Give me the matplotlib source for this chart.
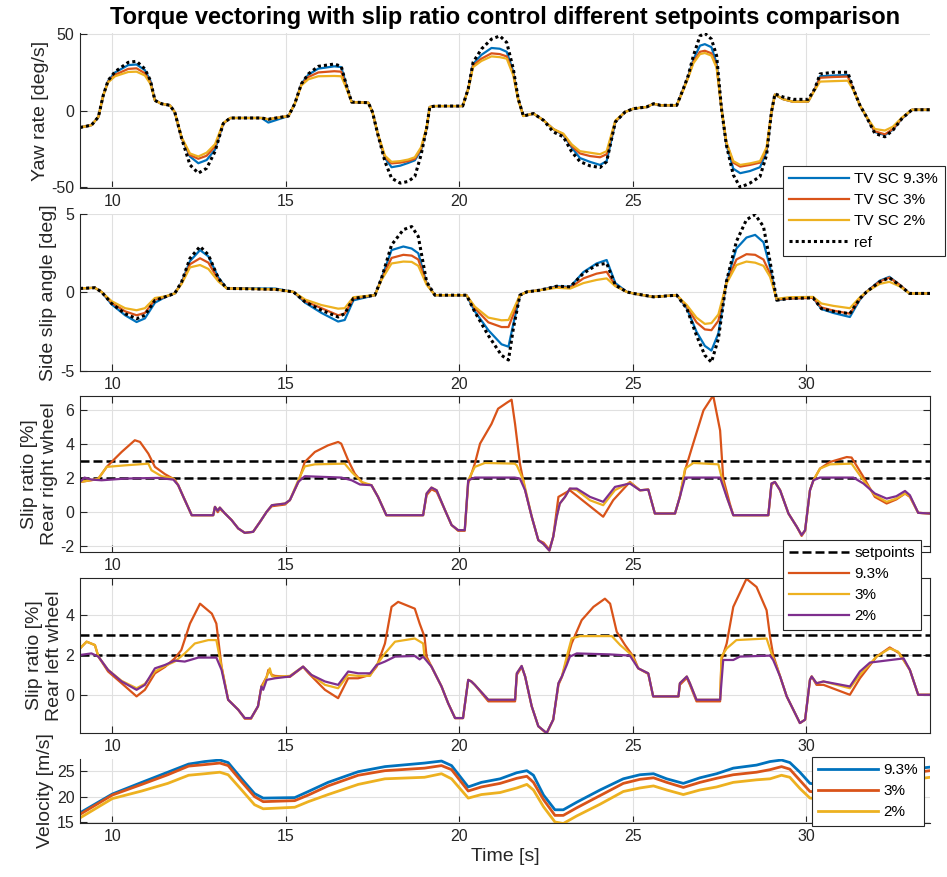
import matplotlib
matplotlib.use('Agg')
import matplotlib.pyplot as plt
from matplotlib.lines import Line2D

plt.rcParams['font.family'] = ['Liberation Sans', 'DejaVu Sans']
plt.rcParams['axes.unicode_minus'] = False
plt.rcParams['lines.solid_joinstyle'] = 'round'

# ---------------- data ----------------
# Yaw rate [deg/s]
t1 = [9.07, 9.4, 9.6, 9.74, 9.88, 10.08, 10.46, 10.7, 10.94, 11.1,
      11.23, 11.42, 11.66, 11.8, 12.0, 12.24, 12.48, 12.72, 12.96, 13.2,
      13.4, 13.73, 14.3, 14.5, 15.08, 15.26, 15.45, 15.65, 15.94, 16.4,
      16.6, 16.75, 16.9, 17.38, 17.5, 17.66, 17.86, 18.05, 18.3, 18.53,
      18.72, 18.9, 19.06, 19.15, 19.3, 20.1, 20.26, 20.4, 20.64, 20.93,
      21.17, 21.37, 21.56, 21.7, 21.85, 22.14, 22.43, 22.71, 23.0, 23.24,
      23.48, 23.77, 24.06, 24.25, 24.5, 24.78, 25.02, 25.4, 25.6, 25.8,
      26.27, 26.46, 26.6, 26.75, 26.94, 27.08, 27.27, 27.42, 27.56, 27.7,
      27.9, 28.1, 28.38, 28.67, 28.86, 29.0, 29.1, 29.34, 29.63, 30.06,
      30.25, 30.4, 30.78, 31.2, 31.36, 31.55, 31.74, 31.98, 32.27, 32.5,
      32.76, 33.05, 33.57]
yaw_ref = [-11.0, -9.5, -4.1, 10.0, 19.7, 25.5, 31.6, 32.3, 27.3, 19.7,
           6.7, 4.5, 3.5, -0.9, -18.2, -35.5, -40.9, -37.7, -26.8, -8.4,
           -4.8, -4.8, -4.8, -5.6, -3.5, 4.5, 17.5, 24.0, 29.0, 30.5,
           29.0, 16.5, 5.6, 5.2, -0.9, -16.0, -33.3, -44.2, -47.4, -46.3,
           -43.1, -29.0, -11.7, 2.4, 3.0, 3.0, 14.3, 31.6, 40.3, 46.8,
           48.9, 44.6, 27.3, 7.8, -3.5, -1.9, -6.3, -13.9, -17.1, -26.8,
           -33.3, -36.1, -37.2, -33.3, -7.4, -0.9, 1.3, 2.4, 4.5, 3.5,
           3.5, 14.3, 22.9, 35.9, 48.9, 50.6, 46.8, 35.9, 1.3, -22.5,
           -42.0, -50.2, -47.4, -43.1, -29.0, -0.9, 11.0, 8.9, 7.4, 7.4,
           14.3, 24.0, 25.1, 25.1, 14.3, 3.5, -4.1, -14.9, -17.1, -12.8,
           -5.2, 0.6, 0.6]
yaw_93 = [-11.0, -9.5, -4.1, 10.0, 19.5, 25.0, 29.8, 30.2, 26.5, 19.5,
          6.7, 4.5, 3.5, -0.9, -18.0, -30.0, -34.4, -32.3, -25.5, -8.4,
          -4.8, -4.8, -4.8, -7.8, -3.5, 4.5, 17.5, 23.5, 27.5, 29.0,
          28.5, 16.5, 5.6, 5.2, -0.9, -16.0, -31.0, -37.0, -36.0, -34.2,
          -32.5, -26.0, -11.7, 2.4, 3.0, 3.0, 14.3, 30.5, 36.5, 41.0,
          40.5, 38.5, 25.5, 7.8, -3.5, -1.9, -6.3, -12.0, -16.0, -24.0,
          -31.0, -33.5, -35.5, -33.0, -7.4, -0.9, 1.3, 2.4, 4.5, 3.5,
          3.5, 14.3, 22.5, 33.5, 42.5, 43.5, 41.5, 31.0, 1.3, -22.0,
          -38.0, -40.9, -39.5, -37.0, -27.0, -0.9, 10.5, 7.5, 5.8, 6.0,
          14.0, 22.5, 23.0, 23.3, 14.0, 3.5, -4.1, -14.0, -16.0, -12.5,
          -5.2, 0.6, 0.6]
yaw_3 = [-11.0, -9.5, -4.1, 10.0, 19.0, 23.5, 27.3, 27.7, 24.5, 18.5,
         6.7, 4.5, 3.5, -0.9, -18.0, -29.0, -31.5, -29.5, -23.5, -8.4,
         -4.8, -4.8, -4.8, -5.6, -3.5, 4.5, 17.0, 22.0, 25.0, 25.8,
         25.5, 15.5, 5.6, 5.2, -0.9, -16.0, -30.5, -34.5, -34.0, -33.0,
         -31.5, -25.0, -11.5, 2.4, 3.0, 3.0, 14.3, 29.5, 34.0, 37.5,
         37.0, 35.5, 24.0, 7.5, -3.5, -1.9, -6.3, -12.0, -15.5, -23.0,
         -28.0, -29.7, -30.5, -28.5, -7.0, -0.9, 1.3, 2.4, 4.5, 3.5,
         3.5, 14.0, 22.0, 32.0, 38.5, 39.2, 37.5, 29.0, 1.3, -21.0,
         -34.0, -36.6, -35.5, -34.0, -25.0, -0.9, 10.5, 7.5, 5.8, 6.0,
         14.0, 21.5, 22.0, 22.3, 14.0, 3.5, -4.1, -13.5, -15.5, -12.0,
         -5.0, 0.6, 0.6]
yaw_2 = [-11.0, -9.5, -4.1, 10.0, 18.5, 22.5, 25.3, 25.5, 23.0, 17.5,
         6.7, 4.5, 3.5, -0.9, -17.5, -28.0, -30.0, -27.5, -22.0, -8.0,
         -4.8, -4.8, -4.8, -5.6, -3.5, 4.5, 16.5, 20.5, 22.5, 22.7,
         22.5, 14.5, 5.6, 5.2, -0.9, -15.5, -29.5, -33.5, -33.0, -32.0,
         -30.5, -24.0, -11.0, 2.4, 3.0, 3.0, 14.0, 28.5, 32.5, 35.5,
         35.0, 34.0, 23.0, 7.0, -3.5, -1.9, -6.3, -12.0, -15.0, -22.0,
         -26.5, -27.5, -28.5, -26.5, -6.5, -0.9, 1.3, 2.4, 4.5, 3.5,
         3.5, 13.5, 21.5, 31.0, 37.0, 37.7, 36.0, 28.0, 1.3, -20.5,
         -33.0, -35.5, -34.5, -33.0, -24.0, -0.9, 10.5, 7.5, 5.8, 6.0,
         13.5, 19.0, 19.3, 19.6, 13.5, 3.5, -4.0, -12.0, -13.0, -10.5,
         -4.5, 0.6, 0.6]

# Side slip angle [deg]
t2 = [9.07, 9.5, 9.69, 9.98, 10.37, 10.7, 10.94, 11.23, 11.52, 11.8,
      12.0, 12.24, 12.53, 12.77, 13.06, 13.3, 14.7, 15.22, 15.56, 16.03,
      16.51, 16.7, 16.95, 17.57, 17.76, 18.05, 18.39, 18.63, 18.82, 19.06,
      19.3, 20.21, 20.45, 20.84, 21.22, 21.42, 21.56, 21.75, 21.95, 22.33,
      22.81, 23.2, 23.58, 23.96, 24.25, 24.5, 24.83, 25.02, 25.6, 26.27,
      26.56, 26.84, 27.08, 27.27, 27.47, 27.7, 27.99, 28.28, 28.53, 28.77,
      28.96, 29.15, 29.53, 30.2, 30.44, 30.78, 31.26, 31.55, 31.74, 32.12,
      32.4, 32.69, 32.98, 33.57]
beta_ref = [0.26, 0.3, 0.04, -0.7, -1.35, -1.67, -1.45, -0.5, -0.28, -0.06,
            0.68, 2.18, 2.93, 2.4, 0.9, 0.26, 0.2, 0.04, -0.6, -1.13,
            -1.56, -1.35, -0.38, -0.17, 0.9, 3.03, 4.0, 4.2, 3.57, 0.68,
            -0.17, -0.17, -1.24, -2.74, -4.0, -4.3, -2.3, -0.17, 0.04, 0.15,
            0.4, 0.36, 1.22, 1.75, 1.86, 0.47, 0.04, -0.06, -0.28, -0.17,
            -1.03, -2.74, -4.0, -4.44, -2.95, 0.68, 3.25, 4.64, 4.96, 4.2,
            1.97, -0.49, -0.38, -0.34, -1.03, -1.2, -1.35, -0.38, 0.04, 0.68,
            0.94, 0.47, -0.06, -0.06]
beta_93 = [0.26, 0.3, 0.04, -0.75, -1.45, -1.88, -1.65, -0.65, -0.3, -0.06,
           0.65, 2.0, 2.7, 2.3, 0.95, 0.26, 0.25, 0.04, -0.65, -1.3,
           -1.85, -1.75, -0.5, -0.17, 0.9, 2.7, 2.93, 2.8, 2.5, 0.6,
           -0.17, -0.17, -1.2, -2.4, -3.3, -3.45, -2.0, -0.17, 0.04, 0.15,
           0.4, 0.36, 1.3, 1.85, 2.07, 0.6, 0.04, -0.06, -0.28, -0.17,
           -1.0, -2.5, -3.4, -3.7, -2.6, 0.68, 2.8, 3.5, 3.67, 3.2,
           1.6, -0.49, -0.38, -0.34, -1.05, -1.3, -1.56, -0.45, 0.04, 0.75,
           1.0, 0.5, -0.06, -0.06]
beta_3 = [0.26, 0.3, 0.04, -0.65, -1.2, -1.45, -1.3, -0.45, -0.28, -0.06,
          0.6, 1.8, 2.18, 1.9, 0.8, 0.26, 0.2, 0.04, -0.55, -1.0,
          -1.45, -1.35, -0.38, -0.17, 0.85, 2.2, 2.4, 2.35, 2.1, 0.55,
          -0.17, -0.17, -1.0, -1.9, -2.2, -2.2, -1.4, -0.17, 0.04, 0.15,
          0.35, 0.3, 0.9, 1.2, 1.32, 0.45, 0.04, -0.06, -0.28, -0.17,
          -0.9, -1.9, -2.35, -2.4, -1.8, 0.6, 2.1, 2.44, 2.4, 2.1,
          1.2, -0.45, -0.38, -0.34, -0.95, -1.15, -1.35, -0.4, 0.04, 0.7,
          0.95, 0.5, -0.06, -0.06]
beta_2 = [0.26, 0.3, 0.04, -0.55, -1.0, -1.13, -1.0, -0.35, -0.25, -0.06,
          0.55, 1.6, 1.75, 1.5, 0.7, 0.26, 0.2, 0.04, -0.45, -0.8,
          -1.03, -1.0, -0.3, -0.17, 0.8, 1.85, 1.97, 1.95, 1.7, 0.5,
          -0.17, -0.17, -0.9, -1.6, -1.77, -1.75, -1.1, -0.17, 0.04, 0.15,
          0.3, 0.25, 0.6, 0.8, 0.9, 0.4, 0.04, -0.06, -0.28, -0.17,
          -0.8, -1.6, -2.0, -1.95, -1.4, 0.55, 1.75, 1.97, 1.9, 1.7,
          1.0, -0.4, -0.3, -0.28, -0.7, -0.85, -1.0, -0.3, 0.04, 0.55,
          0.68, 0.4, -0.06, -0.06]

# Slip ratio rear right wheel [%]
setpoints = [2, 3]
t3_93 = [9.07, 9.5, 9.6, 9.84, 9.98, 10.27, 10.65, 10.8, 11.04, 11.23,
         11.52, 11.8, 11.9, 12.05, 12.29, 12.91, 12.96, 13.04, 13.1, 13.25,
         13.44, 13.63, 13.82, 14.06, 14.26, 14.45, 14.6, 14.98, 15.12, 15.36,
         15.55, 15.84, 16.22, 16.51, 16.6, 16.8, 16.99, 17.23, 17.47, 17.66,
         17.9, 18.96, 19.06, 19.2, 19.35, 19.59, 19.78, 19.97, 20.16, 20.26,
         20.45, 20.6, 20.93, 21.12, 21.4, 21.51, 21.61, 21.75, 21.9, 22.09,
         22.28, 22.43, 22.6, 22.71, 22.86, 23.19, 23.67, 24.15, 24.44, 24.92,
         25.21, 25.45, 25.64, 26.22, 26.36, 26.51, 26.7, 27.04, 27.32, 27.52,
         27.61, 27.8, 27.9, 28.91, 29.0, 29.1, 29.25, 29.49, 29.73, 29.87,
         29.97, 30.11, 30.21, 30.4, 30.69, 31.17, 31.31, 31.65, 31.98, 32.32,
         32.6, 32.85, 32.99, 33.23, 33.57]
sr_rr_93 = [1.78, 1.92, 1.98, 2.67, 2.96, 3.55, 4.24, 4.14, 3.45, 2.67,
            2.24, 1.92, 1.59, 0.9, -0.18, -0.18, 0.31, 0.0, 0.2, -0.08,
            -0.47, -0.96, -1.22, -1.16, -0.57, 0.02, 0.35, 0.45, 0.71, 1.75,
            2.96, 3.55, 3.94, 4.14, 4.04, 3.06, 2.27, 1.69, 1.59, 0.9,
            -0.18, -0.18, 1.0, 1.35, 1.2, 0.12, -0.76, -1.1, -1.1, 1.7,
            2.86, 4.04, 5.2, 6.1, 6.49, 6.63, 5.2, 2.86, 1.29, -0.27,
            -1.65, -1.8, -2.2, -1.45, 0.9, 1.29, 0.51, -0.27, 0.71, 1.78,
            1.29, 1.33, -0.08, -0.08, 0.9, 2.47, 3.75, 6.0, 6.88, 4.82,
            1.98, 0.5, -0.18, -0.18, 1.6, 1.78, 1.29, -0.08, -0.86, -1.4,
            -1.1, 1.29, 1.88, 2.57, 2.96, 3.25, 3.22, 2.08, 0.9, 0.51,
            0.75, 1.1, 0.9, -0.04, -0.08]
t3_3 = [9.07, 9.5, 9.6, 9.84, 10.37, 11.04, 11.13, 11.42, 11.76, 11.9,
        12.05, 12.29, 12.91, 12.96, 13.04, 13.1, 13.25, 13.44, 13.63, 13.82,
        14.06, 14.26, 14.45, 14.6, 14.98, 15.12, 15.36, 15.55, 15.84, 16.7,
        16.9, 17.19, 17.47, 17.66, 17.9, 18.96, 19.06, 19.2, 19.35, 19.59,
        19.78, 19.97, 20.16, 20.26, 20.45, 20.74, 21.6, 21.66, 21.85, 22.09,
        22.28, 22.43, 22.6, 22.71, 22.81, 22.9, 23.05, 23.19, 23.39, 23.77,
        24.15, 24.49, 24.92, 25.21, 25.45, 25.64, 26.22, 26.36, 26.51, 26.75,
        27.47, 27.56, 27.71, 27.9, 28.91, 29.0, 29.1, 29.25, 29.49, 29.73,
        29.87, 29.97, 30.11, 30.21, 30.4, 30.69, 31.31, 31.65, 31.98, 32.32,
        32.6, 32.85, 32.99, 33.23, 33.57]
sr_rr_3 = [1.78, 1.92, 1.98, 2.67, 2.76, 2.86, 2.47, 2.12, 1.98, 1.59,
           0.9, -0.18, -0.18, 0.31, 0.08, 0.27, -0.08, -0.47, -0.96, -1.22,
           -1.16, -0.57, 0.02, 0.41, 0.51, 0.71, 1.88, 2.7, 2.82, 2.86,
           2.37, 1.78, 1.59, 0.9, -0.18, -0.18, 1.1, 1.45, 1.29, 0.12,
           -0.76, -1.06, -1.06, 1.88, 2.67, 2.9, 2.86, 2.76, 1.88, -0.27,
           -1.65, -1.88, -2.27, -1.45, -0.27, 0.51, 0.9, 1.39, 1.3, 0.7,
           0.41, 1.3, 1.75, 1.29, 1.33, -0.08, -0.08, 0.9, 2.57, 2.9,
           2.82, 2.08, 0.9, -0.18, -0.18, 1.69, 1.78, 1.29, -0.08, -0.86,
           -1.35, -1.06, 1.29, 1.88, 2.57, 2.82, 2.86, 1.88, 1.0, 0.61,
           0.8, 1.1, 0.95, -0.04, -0.08]
t3_2 = [9.07, 9.2, 9.4, 9.69, 10.37, 11.33, 11.76, 11.9, 12.05, 12.29,
        12.91, 12.96, 13.04, 13.1, 13.25, 13.44, 13.63, 13.82, 14.06, 14.26,
        14.45, 14.6, 14.98, 15.12, 15.36, 15.55, 16.6, 16.9, 17.14, 17.47,
        17.66, 17.9, 18.96, 19.06, 19.2, 19.35, 19.59, 19.78, 19.97, 20.16,
        20.26, 20.45, 21.6, 21.75, 21.9, 22.09, 22.28, 22.43, 22.6, 22.71,
        22.81, 22.9, 23.05, 23.19, 23.39, 23.77, 24.15, 24.49, 24.92, 25.21,
        25.45, 25.64, 26.22, 26.36, 26.51, 27.52, 27.71, 27.9, 28.91, 29.0,
        29.1, 29.25, 29.49, 29.73, 29.87, 29.97, 30.11, 30.21, 30.4, 31.36,
        31.65, 31.98, 32.32, 32.6, 32.85, 32.99, 33.23, 33.57]
sr_rr_2 = [1.78, 2.04, 1.92, 1.88, 1.98, 2.02, 1.92, 1.59, 0.9, -0.18,
           -0.18, 0.31, 0.08, 0.27, -0.08, -0.47, -0.96, -1.22, -1.16, -0.57,
           0.02, 0.41, 0.51, 0.71, 1.78, 2.12, 2.04, 1.88, 1.63, 1.59,
           0.9, -0.18, -0.18, 1.1, 1.45, 1.29, 0.12, -0.76, -1.06, -1.06,
           1.88, 2.04, 2.04, 1.98, 1.29, -0.27, -1.65, -1.88, -2.27, -1.45,
           -0.27, 0.51, 0.9, 1.39, 1.39, 0.9, 0.61, 1.49, 1.69, 1.29,
           1.33, -0.08, -0.08, 0.9, 2.04, 2.04, 0.9, -0.18, -0.18, 1.69,
           1.78, 1.29, -0.08, -0.86, -1.35, -1.06, 1.29, 1.88, 2.04, 2.04,
           1.69, 1.1, 0.8, 0.94, 1.25, 1.0, -0.04, -0.08]

# Slip ratio rear left wheel [%]
t4_93 = [9.07, 9.26, 9.5, 9.6, 9.88, 10.27, 10.7, 10.94, 11.23, 11.52,
         11.8, 11.99, 12.24, 12.53, 12.87, 13.0, 13.15, 13.34, 13.63, 13.82,
         14.0, 14.2, 14.3, 14.45, 14.5, 14.6, 14.69, 15.12, 15.5, 15.65,
         16.13, 16.51, 16.8, 17.09, 17.43, 17.62, 17.86, 18.05, 18.24, 18.72,
         18.86, 19.0, 19.06, 19.2, 19.49, 19.68, 19.88, 20.11, 20.26, 20.35,
         20.45, 20.84, 21.61, 21.66, 21.8, 21.9, 22.09, 22.28, 22.52, 22.71,
         22.86, 22.96, 23.1, 23.24, 23.53, 23.87, 24.2, 24.35, 24.54, 24.78,
         25.02, 25.16, 25.45, 25.59, 26.32, 26.36, 26.56, 26.65, 26.84, 27.52,
         27.56, 27.71, 27.9, 28.28, 28.57, 28.86, 28.96, 29.05, 29.25, 29.44,
         29.63, 29.82, 29.97, 30.11, 30.16, 30.3, 30.5, 31.26, 31.55, 32.03,
         32.41, 32.69, 32.99, 33.23, 33.57]
sr_rl_93 = [2.33, 2.67, 2.5, 1.92, 1.17, 0.58, -0.08, 0.25, 1.08, 1.4,
            1.83, 2.25, 3.58, 4.58, 4.08, 3.58, 1.42, -0.25, -0.75, -1.2,
            -1.2, -0.58, 0.42, 0.9, 1.25, 1.0, 0.95, 0.9, 1.4, 1.1,
            0.25, -0.17, 0.83, 0.83, 1.0, 1.42, 2.58, 4.42, 4.67, 4.33,
            3.58, 2.92, 1.92, 1.42, 0.42, -0.42, -1.17, -1.17, 0.75, 0.67,
            0.5, -0.33, -0.33, 1.0, 1.4, 0.92, -0.58, -1.58, -1.95, -1.25,
            0.5, 0.9, 1.75, 2.58, 3.75, 4.42, 4.83, 4.58, 3.17, 2.5,
            1.92, 1.33, 1.05, -0.08, -0.08, 0.5, 0.85, 0.5, -0.33, -0.33,
            1.75, 2.58, 4.42, 5.83, 5.42, 4.25, 2.92, 2.0, 0.92, -0.08,
            -0.75, -1.42, -1.25, 0.75, 0.92, 0.5, 0.5, 0.0, 0.83, 1.92,
            2.38, 2.08, 1.25, 0.0, 0.0]
t4_3 = [9.07, 9.26, 9.5, 9.6, 9.88, 10.27, 10.7, 10.94, 11.23, 11.52,
        11.8, 12.09, 12.38, 12.77, 13.0, 13.15, 13.34, 13.63, 13.82, 14.0,
        14.2, 14.3, 14.35, 14.45, 14.54, 14.6, 14.69, 15.12, 15.5, 15.74,
        16.13, 16.51, 16.8, 17.09, 17.43, 17.62, 17.86, 18.15, 18.72, 18.96,
        19.0, 19.2, 19.49, 19.68, 19.88, 20.11, 20.26, 20.35, 20.45, 20.84,
        21.61, 21.66, 21.8, 21.9, 22.09, 22.28, 22.52, 22.71, 22.86, 22.96,
        23.1, 23.24, 23.48, 24.4, 24.64, 24.97, 25.16, 25.45, 25.59, 26.32,
        26.36, 26.56, 26.65, 26.84, 27.52, 27.56, 27.71, 27.99, 28.86, 29.0,
        29.15, 29.25, 29.44, 29.63, 29.82, 29.97, 30.11, 30.16, 30.3, 30.5,
        31.26, 31.55, 32.03, 32.41, 32.65, 32.99, 33.23, 33.57]
sr_rl_3 = [2.33, 2.67, 2.5, 1.92, 1.25, 0.7, 0.33, 0.55, 1.17, 1.45,
           1.67, 2.08, 2.58, 2.75, 2.75, 1.4, -0.25, -0.75, -1.17, -1.17,
           -0.58, 0.42, 0.5, 0.9, 1.33, 0.95, 0.9, 0.95, 1.42, 1.0,
           0.5, 0.33, 1.0, 0.95, 0.95, 1.5, 2.08, 2.67, 2.83, 2.58,
           1.92, 1.42, 0.42, -0.42, -1.17, -1.17, 0.75, 0.67, 0.5, -0.25,
           -0.25, 1.08, 1.45, 0.92, -0.58, -1.58, -1.92, -1.25, 0.58, 0.92,
           1.92, 2.83, 2.95, 2.95, 2.5, 2.0, 1.33, 1.08, -0.08, -0.08,
           0.58, 0.92, 0.58, -0.25, -0.25, 1.92, 2.33, 2.75, 2.83, 2.08,
           1.42, 0.92, -0.08, -0.75, -1.42, -1.25, 0.75, 0.92, 0.58, 0.67,
           0.33, 1.0, 1.92, 2.33, 2.17, 1.25, 0.0, 0.0]
t4_2 = [9.07, 9.4, 9.6, 9.88, 10.27, 10.7, 10.94, 11.23, 11.52, 11.8,
        12.09, 12.48, 13.0, 13.15, 13.34, 13.63, 13.82, 14.0, 14.2, 14.3,
        14.35, 14.45, 14.69, 15.12, 15.5, 15.74, 16.13, 16.51, 16.8, 17.09,
        17.43, 17.62, 17.86, 18.15, 18.72, 18.86, 18.96, 19.2, 19.49, 19.68,
        19.88, 20.11, 20.26, 20.35, 20.45, 20.84, 21.61, 21.66, 21.8, 21.9,
        22.09, 22.28, 22.52, 22.71, 22.86, 22.96, 23.1, 23.19, 23.39, 24.35,
        24.92, 25.16, 25.45, 25.59, 26.32, 26.36, 26.56, 26.65, 26.84, 27.52,
        27.61, 27.9, 28.09, 28.96, 29.05, 29.25, 29.44, 29.63, 29.82, 29.97,
        30.11, 30.16, 30.3, 30.5, 31.26, 31.55, 31.84, 32.81, 32.99, 33.23,
        33.57]
sr_rl_2 = [2.0, 2.08, 1.92, 1.25, 0.67, 0.25, 0.5, 1.33, 1.5, 1.72,
           1.67, 1.87, 1.87, 1.25, -0.25, -0.75, -1.17, -1.17, -0.58, 0.42,
           0.25, 0.75, 0.83, 0.92, 1.42, 1.0, 0.67, 0.5, 1.17, 1.08,
           1.08, 1.5, 1.67, 1.92, 1.95, 1.78, 1.92, 1.42, 0.42, -0.42,
           -1.17, -1.17, 0.75, 0.67, 0.5, -0.25, -0.25, 1.08, 1.45, 0.92,
           -0.58, -1.58, -1.92, -1.25, 0.58, 0.92, 1.5, 1.92, 2.08, 2.03,
           1.97, 1.33, 1.08, -0.08, -0.08, 0.58, 0.92, 0.58, -0.25, -0.25,
           1.75, 1.75, 1.92, 1.97, 1.75, 0.92, -0.08, -0.75, -1.42, -1.25,
           0.75, 0.92, 0.58, 0.67, 0.42, 1.17, 1.62, 1.83, 1.25, 0.0,
           0.0]

# Velocity [m/s]
t5 = [9.07, 10.0, 10.85, 11.6, 12.2, 12.67, 13.1, 13.34, 13.73, 14.1,
      14.35, 15.26, 15.65, 16.22, 17.09, 17.86, 19.0, 19.49, 19.78, 20.26,
      20.64, 21.18, 21.66, 21.95, 22.14, 22.43, 22.76, 23.0, 23.39, 24.06,
      24.73, 25.21, 25.6, 25.98, 26.46, 26.94, 27.42, 27.9, 28.57, 28.96,
      29.29, 29.53, 29.82, 30.11, 30.6, 31.5, 32.5, 33.57]
vel_93 = [16.8, 20.5, 22.8, 24.8, 26.4, 26.9, 27.2, 26.7, 23.5, 20.6,
          19.7, 19.8, 21.0, 22.8, 24.9, 25.9, 26.6, 27.0, 26.1, 21.9,
          22.8, 23.5, 24.7, 25.1, 24.2, 20.3, 17.4, 17.4, 18.9, 21.3,
          23.5, 24.3, 24.5, 23.5, 22.6, 23.7, 24.5, 25.6, 26.2, 26.9,
          27.2, 26.7, 24.8, 22.6, 22.2, 23.5, 25.0, 25.8]
vel_3 = [16.5, 20.3, 22.4, 24.3, 26.0, 26.3, 26.6, 26.1, 22.9, 20.0,
         19.0, 19.2, 20.3, 22.1, 24.2, 25.1, 25.6, 26.1, 25.3, 21.1,
         21.9, 22.6, 23.6, 24.0, 22.8, 19.4, 16.3, 16.3, 17.8, 20.2,
         22.6, 23.4, 23.7, 22.8, 21.8, 22.8, 23.6, 24.3, 24.8, 25.3,
         25.9, 25.4, 23.2, 21.0, 20.8, 22.3, 24.2, 25.1]
vel_2 = [15.8, 19.6, 21.1, 22.6, 24.2, 24.5, 24.8, 24.3, 21.3, 18.4,
         17.6, 17.9, 19.0, 20.4, 22.4, 23.5, 23.8, 24.5, 23.5, 19.7,
         20.4, 20.8, 21.7, 22.4, 21.3, 18.0, 15.0, 14.7, 16.2, 18.5,
         21.0, 21.7, 22.1, 21.3, 20.4, 21.3, 21.9, 22.8, 23.3, 23.5,
         24.2, 23.8, 21.6, 19.7, 19.5, 21.0, 22.8, 23.8]

xticks = [10, 15, 20, 25, 30]
title = 'Torque vectoring with slip ratio control different setpoints comparison'

# ---------------- style ----------------
W, H = 947, 877
BLUE = '#0072BD'; ORANGE = '#D95319'; YELLOW = '#EDB120'; PURPLE = '#7E2F8E'
AXC = '#262626'; GRIDC = '#E0E0E0'
TICK_FS = 11.5; LAB_FS = 14; LEG_FS = 11

fig = plt.figure(figsize=(W / 100, H / 100), dpi=100)


def ax_at(top, bottom, left=80, right=930):
    return fig.add_axes([left / W, 1 - bottom / H, (right - left) / W, (bottom - top) / H])


def style(ax, box, ylim, yticks):
    ax.set_xlim(9.07, 33.57)
    ax.set_ylim(*ylim)
    ax.set_xticks(xticks)
    ax.set_yticks(yticks)
    ax.grid(True, color=GRIDC, lw=0.8)
    ax.set_axisbelow(True)
    for s in ['left', 'bottom', 'top', 'right']:
        ax.spines[s].set_color(AXC)
        ax.spines[s].set_linewidth(0.8)
    if not box:
        ax.spines['top'].set_visible(False)
        ax.spines['right'].set_visible(False)
    ax.tick_params(direction='in', length=5, width=0.8, color=AXC, labelcolor=AXC,
                   labelsize=TICK_FS, top=box, right=box, pad=4)


LW = 1.6
dot = (0, (1, 1))

ax1 = ax_at(33, 188)
ax1.plot(t1, yaw_93, color=BLUE, lw=LW)
ax1.plot(t1, yaw_3, color=ORANGE, lw=LW)
ax1.plot(t1, yaw_2, color=YELLOW, lw=LW)
ax1.plot(t1, yaw_ref, color='black', lw=2.2, linestyle=dot)
style(ax1, False, (-50.6, 50.8), [-50, 0, 50])
ax1.set_ylabel('Yaw rate [deg/s]', fontsize=LAB_FS, color=AXC, labelpad=2)
ax1.set_title(title, fontsize=17, fontweight='bold', pad=6.5, color='black')

ax2 = ax_at(214, 371)
ax2.plot(t2, beta_93, color=BLUE, lw=LW)
ax2.plot(t2, beta_3, color=ORANGE, lw=LW)
ax2.plot(t2, beta_2, color=YELLOW, lw=LW)
ax2.plot(t2, beta_ref, color='black', lw=2.2, linestyle=dot)
style(ax2, False, (-5, 5), [-5, 0, 5])
ax2.set_ylabel('Side slip angle [deg]', fontsize=LAB_FS, color=AXC, labelpad=2)

dash = (0, (3.6, 1.6))
ax3 = ax_at(396, 552)
for sp in setpoints:
    ax3.axhline(sp, color='black', lw=1.8, linestyle=dash)
ax3.plot(t3_93, sr_rr_93, color=ORANGE, lw=LW)
ax3.plot(t3_3, sr_rr_3, color=YELLOW, lw=LW)
ax3.plot(t3_2, sr_rr_2, color=PURPLE, lw=LW)
style(ax3, True, (-2.35, 6.85), [-2, 0, 2, 4, 6])
ax3.set_ylabel('Slip ratio [%]\nRear right wheel', fontsize=LAB_FS, color=AXC, labelpad=2)

ax4 = ax_at(578, 733)
for sp in setpoints:
    ax4.axhline(sp, color='black', lw=1.8, linestyle=dash)
ax4.plot(t4_93, sr_rl_93, color=ORANGE, lw=LW)
ax4.plot(t4_3, sr_rl_3, color=YELLOW, lw=LW)
ax4.plot(t4_2, sr_rl_2, color=PURPLE, lw=LW)
style(ax4, True, (-1.92, 5.87), [0, 2, 4])
ax4.set_ylabel('Slip ratio [%]\nRear left wheel', fontsize=LAB_FS, color=AXC, labelpad=2)

ax5 = ax_at(759, 823)
ax5.plot(t5, vel_93, color=BLUE, lw=2.0)
ax5.plot(t5, vel_3, color=ORANGE, lw=2.0)
ax5.plot(t5, vel_2, color=YELLOW, lw=2.0)
style(ax5, False, (14.8, 27.4), [15, 20, 25])
ax5.set_ylabel('Velocity [m/s]', fontsize=LAB_FS, color=AXC, labelpad=2)
ax5.set_xlabel('Time [s]', fontsize=LAB_FS, color=AXC, labelpad=3)


def legend(handles, labels, x, y):
    lg = fig.legend(handles, labels, loc='upper left',
                    bbox_to_anchor=(x / W, 1 - y / H), bbox_transform=fig.transFigure,
                    borderaxespad=0, fontsize=LEG_FS, frameon=True, fancybox=False,
                    framealpha=1, edgecolor=AXC, handlelength=3.9, handletextpad=0.35,
                    borderpad=0.42, labelspacing=0.46)
    lg.get_frame().set_linewidth(0.8)
    return lg


legend([Line2D([], [], color=BLUE, lw=LW), Line2D([], [], color=ORANGE, lw=LW),
        Line2D([], [], color=YELLOW, lw=LW), Line2D([], [], color='black', lw=2.2, linestyle=dot)],
       ['TV SC 9.3%', 'TV SC 3%', 'TV SC 2%', 'ref'], 783, 166)
legend([Line2D([], [], color='black', lw=1.8, linestyle=dash), Line2D([], [], color=ORANGE, lw=LW),
        Line2D([], [], color=YELLOW, lw=LW), Line2D([], [], color=PURPLE, lw=LW)],
       ['setpoints', '9.3%', '3%', '2%'], 783, 540)
legend([Line2D([], [], color=BLUE, lw=2.0), Line2D([], [], color=ORANGE, lw=2.0),
        Line2D([], [], color=YELLOW, lw=2.0)],
       ['9.3%', '3%', '2%'], 812, 757)

fig.savefig('out.png', dpi=100)
